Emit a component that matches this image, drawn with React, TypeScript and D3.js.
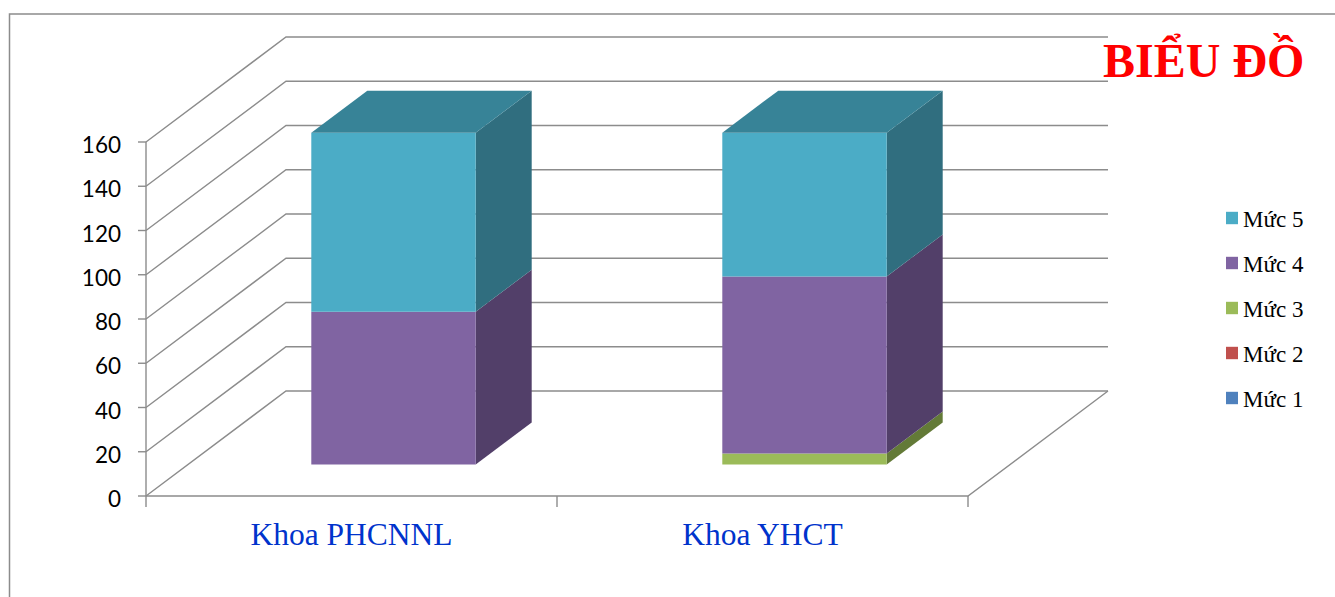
import React from "react";
import * as d3 from "d3";

// Categories, series and axis ticks
const categories = ["Khoa PHCNNL", "Khoa YHCT"];
const seriesNames = ["Mức 1", "Mức 2", "Mức 3", "Mức 4", "Mức 5"];
const muc1 = [0, 0];
const muc2 = [0, 0];
const muc3 = [0, 5];
const muc4 = [69, 80];
const muc5 = [81, 65];
const yTicks = [0, 20, 40, 60, 80, 100, 120, 140, 160];

// Office palette: front, side and top shades per series
const fronts = ["#4F81BD", "#C0504D", "#9BBB59", "#8064A2", "#4BACC6"];
const sides = ["#35577F", "#823634", "#637A37", "#523F69", "#306E7F"];
const tops = ["#3D6594", "#963F3C", "#718D44", "#5F4A79", "#378397"];

const W = 1335;
const H = 597;

// Oblique projection of the depth axis
const DX = 140;
const DY = 105;
const proj = (x: number, y: number, z: number): [number, number] => [x + DX * z, y - DY * z];
const pts = (arr: [number, number][]) => arr.map((p) => p.join(",")).join(" ");

export default function App() {
  const y = d3.scaleLinear().domain([0, 160]).range([496, 142]);
  const x = d3
    .scaleBand<string>()
    .domain(categories)
    .range([146, 968])
    .paddingInner(0.6)
    .paddingOuter(0.3);
  const step = x.step();
  const x0 = 146;
  const x1 = 968;

  const allSeries = [muc1, muc2, muc3, muc4, muc5];
  const rows = categories.map((c, i) => {
    const o: Record<string, number | string> = { cat: c };
    seriesNames.forEach((s, k) => (o[s] = allSeries[k][i]));
    return o;
  });
  const stacked = d3.stack<any>().keys(seriesNames)(rows);

  const zFront = 0.3;
  const zBack = 0.7;
  const grid = "#8C8C8C";
  const sw = 1.4;

  const bars: React.ReactNode[] = [];
  categories.forEach((c, i) => {
    const bx0 = x(c)!;
    const bx1 = bx0 + x.bandwidth();
    const layers = stacked
      .map((s, k) => ({ k, lo: s[i][0], hi: s[i][1] }))
      .filter((l) => l.hi - l.lo > 0);
    layers.forEach((l, j) => {
      const yl = y(l.lo);
      const yh = y(l.hi);
      const front = [proj(bx0, yl, zFront), proj(bx1, yl, zFront), proj(bx1, yh, zFront), proj(bx0, yh, zFront)] as [number, number][];
      const side = [proj(bx1, yl, zFront), proj(bx1, yl, zBack), proj(bx1, yh, zBack), proj(bx1, yh, zFront)] as [number, number][];
      bars.push(
        <g key={`b${i}-${l.k}`}>
          <polygon points={pts(side)} fill={sides[l.k]} />
          <polygon points={pts(front)} fill={fronts[l.k]} />
          {j === layers.length - 1 && (
            <polygon
              points={pts([proj(bx0, yh, zFront), proj(bx1, yh, zFront), proj(bx1, yh, zBack), proj(bx0, yh, zBack)])}
              fill={tops[l.k]}
            />
          )}
        </g>
      );
    });
  });

  const legendItems = [...seriesNames].reverse();

  return (
    <svg width={W} height={H} style={{ position: "absolute", left: 0, top: 0 }}>
      <rect x={0} y={0} width={W} height={H} fill="#fff" />
      <rect x={9.5} y={14} width={W + 20} height={H + 20} fill="none" stroke="#8C8C8C" strokeWidth={1.5} />

      {/* walls and gridlines */}
      {yTicks.map((t) => {
        const [lx, ly] = proj(x0, y(t), 0);
        const [bx, by] = proj(x0, y(t), 1);
        const [ex] = proj(x1, y(t), 1);
        return (
          <g key={`g${t}`}>
            <polyline points={pts([[lx, ly], [bx, by], [ex, by]])} fill="none" stroke={grid} strokeWidth={sw} />
            <line x1={x0 - 8} x2={x0} y1={ly} y2={ly} stroke={grid} strokeWidth={sw} />
            <text
              x={121}
              y={ly + 2.5}
              textAnchor="end"
              dominantBaseline="central"
              fontFamily="Lato, 'Open Sans', sans-serif"
              fontSize={22.5}
              fill="#000"
            >
              {t}
            </text>
          </g>
        );
      })}
      <line x1={x0} x2={x0} y1={y(160)} y2={y(0)} stroke={grid} strokeWidth={sw} />
      {/* floor */}
      <polyline
        points={pts([proj(x0, y(0), 0), proj(x1, y(0), 0), proj(x1, y(0), 1)])}
        fill="none"
        stroke={grid}
        strokeWidth={sw}
      />
      {[0, 1, 2].map((k) => (
        <line key={`t${k}`} x1={x0 + k * step} x2={x0 + k * step} y1={y(0)} y2={y(0) + 11} stroke={grid} strokeWidth={sw} />
      ))}

      {bars}

      {categories.map((c) => (
        <text
          key={c}
          x={x(c)! + x.bandwidth() / 2}
          y={545}
          textAnchor="middle"
          fontFamily="'Times New Roman', 'Liberation Serif', serif"
          fontSize={31.5}
          fill="#0033CC"
        >
          {c}
        </text>
      ))}

      <text
        x={1103}
        y={77}
        fontFamily="'Times New Roman', 'Liberation Serif', serif"
        fontWeight="bold"
        fontSize={48}
        fill="#FF0000"
      >
        BIỂU ĐỒ
      </text>

      {legendItems.map((s, i) => {
        const k = seriesNames.indexOf(s);
        const cy = 218 + i * 45;
        return (
          <g key={s}>
            <rect x={1226} y={cy - 6.2} width={12} height={12.4} fill={fronts[k]} />
            <text
              x={1243}
              y={cy + 8.7}
              fontFamily="'Times New Roman', 'Liberation Serif', serif"
              fontSize={23}
              fill="#000"
            >
              {s}
            </text>
          </g>
        );
      })}
    </svg>
  );
}
